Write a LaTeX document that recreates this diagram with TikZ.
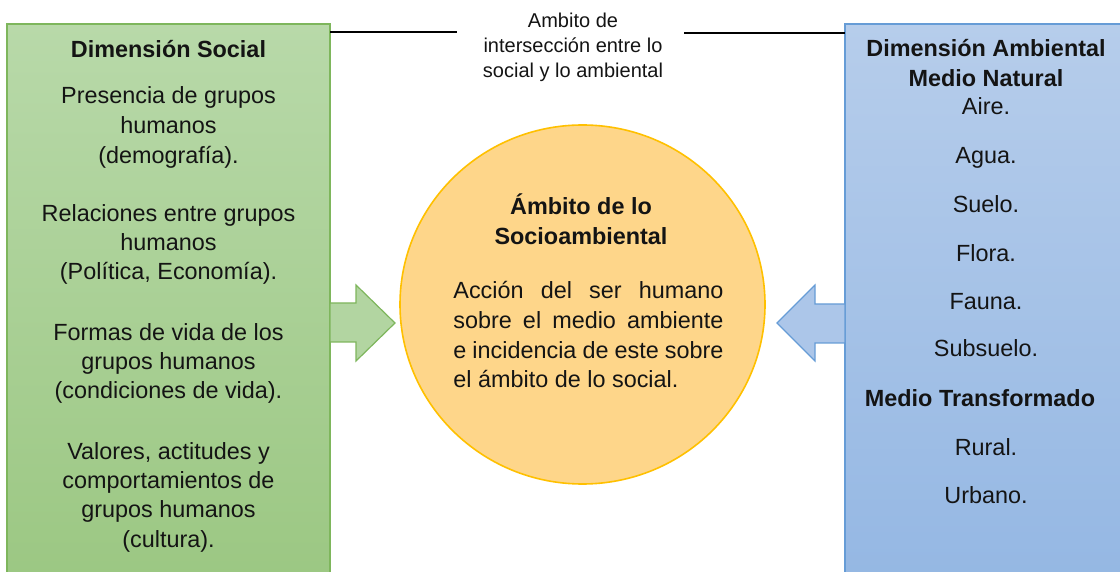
\documentclass[tikz,border=0pt]{standalone}
\usepackage{fontspec}
\usetikzlibrary{shapes.geometric}
\setmainfont{Liberation Sans}
\definecolor{gTop}{RGB}{184,217,169}
\definecolor{gBot}{RGB}{155,199,130}
\definecolor{gLine}{RGB}{126,182,92}
\definecolor{bTop}{RGB}{182,205,235}
\definecolor{bBot}{RGB}{148,183,227}
\definecolor{bLine}{RGB}{102,156,214}
\definecolor{cFill}{RGB}{254,214,138}
\definecolor{cLine}{RGB}{255,192,0}
\definecolor{txtc}{RGB}{20,20,20}
\begin{document}
\begin{tikzpicture}[x=0.5pt,y=-0.5pt,
  txt/.style={anchor=base,inner sep=0pt,text=txtc,font=\fontsize{11.7}{14}\selectfont},
  head/.style={txt,font=\fontsize{11.7}{14}\selectfont\bfseries},
  small/.style={anchor=base,inner sep=0pt,text=txtc,font=\fontsize{10}{12.5}\selectfont},
  gbox/.style={draw=gLine,line width=0.7pt,top color=gTop,bottom color=gBot},
  bbox/.style={draw=bLine,line width=0.7pt,top color=bTop,bottom color=bBot},
  garrow/.style={draw=gLine,line width=0.6pt,fill=gTop!80!gBot,line join=miter},
  barrow/.style={draw=bLine,line width=0.6pt,fill=bTop!70!bBot,line join=miter},
  conn/.style={draw=black,line width=0.7pt}]
\useasboundingbox (0,0) rectangle (1120,572);

% boxes
\path[gbox] (7,24) rectangle (330,590);
\path[bbox] (845,24) rectangle (1140,590);

% circle
\node[ellipse,draw=cLine,fill=cFill,line width=0.8pt,minimum width=182.5pt,minimum height=179.5pt,inner sep=0pt] (circ) at (582.5,304.5) {};

% block arrows
\path[garrow] (330,303) -- (356,303) -- (356,285) -- (395,323) -- (356,361) -- (356,342) -- (330,342) -- cycle;
\path[barrow] (845,304) -- (815,304) -- (815,285) -- (777,323) -- (815,361) -- (815,343) -- (845,343) -- cycle;

% top label and connector lines
\node[small] (t1) at (573,28) {Ambito de};
\node[small] (t2) at (573,53) {intersección entre lo};
\node[small] (t3) at (573,78) {social y lo ambiental};
\coordinate (gl) at (330,32);
\coordinate (gr) at (457,32);
\coordinate (bl) at (684,33);
\coordinate (br) at (845,33);
\draw[conn] (gl) -- (gr);
\draw[conn] (bl) -- (br);

% left box text
\node[head] (sh) at (168.5,58) {Dimensión Social};
\node[txt] (s1) at (168.5,104) {Presencia de grupos};
\node[txt] (s2) at (168.5,134) {humanos};
\node[txt] (s3) at (168.5,164) {(demografía).};
\node[txt] (s4) at (168.5,222) {Relaciones entre grupos};
\node[txt] (s5) at (168.5,251) {humanos};
\node[txt] (s6) at (168.5,280) {(Política, Economía).};
\node[txt] (s7) at (168.5,341) {Formas de vida de los};
\node[txt] (s8) at (168.5,370) {grupos humanos};
\node[txt] (s9) at (168.5,399) {(condiciones de vida).};
\node[txt] (s10) at (168.5,459) {Valores, actitudes y};
\node[txt] (s11) at (168.5,488) {comportamientos de};
\node[txt] (s12) at (168.5,517) {grupos humanos};
\node[txt] (s13) at (168.5,547) {(cultura).};

% right box text
\node[head] (ah) at (986,57) {Dimensión Ambiental};
\node[head] (an) at (986,87) {Medio Natural};
\node[txt] (a1) at (986,115) {Aire.};
\node[txt] (a2) at (986,164) {Agua.};
\node[txt] (a3) at (986,213) {Suelo.};
\node[txt] (a4) at (986,262) {Flora.};
\node[txt] (a5) at (986,310) {Fauna.};
\node[txt] (a6) at (986,357) {Subsuelo.};
\node[head] (at) at (980,407) {Medio Transformado};
\node[txt] (a7) at (986,455) {Rural.};
\node[txt] (a8) at (986,503) {Urbano.};

% circle text
\node[head] (ch1) at (581,215) {Ámbito de lo};
\node[head] (ch2) at (581,245) {Socioambiental};
\node[txt,anchor=base west] (c1) at (453,299) {\makebox[135pt][s]{Acción del ser humano}};
\node[txt,anchor=base west] (c2) at (453,328.5) {\makebox[135pt][s]{sobre el medio ambiente}};
\node[txt,anchor=base west] (c3) at (453,358) {\makebox[135pt][s]{e incidencia de este sobre}};
\node[txt,anchor=base west] (c4) at (453,387) {el ámbito de lo social.};
\end{tikzpicture}
\end{document}
